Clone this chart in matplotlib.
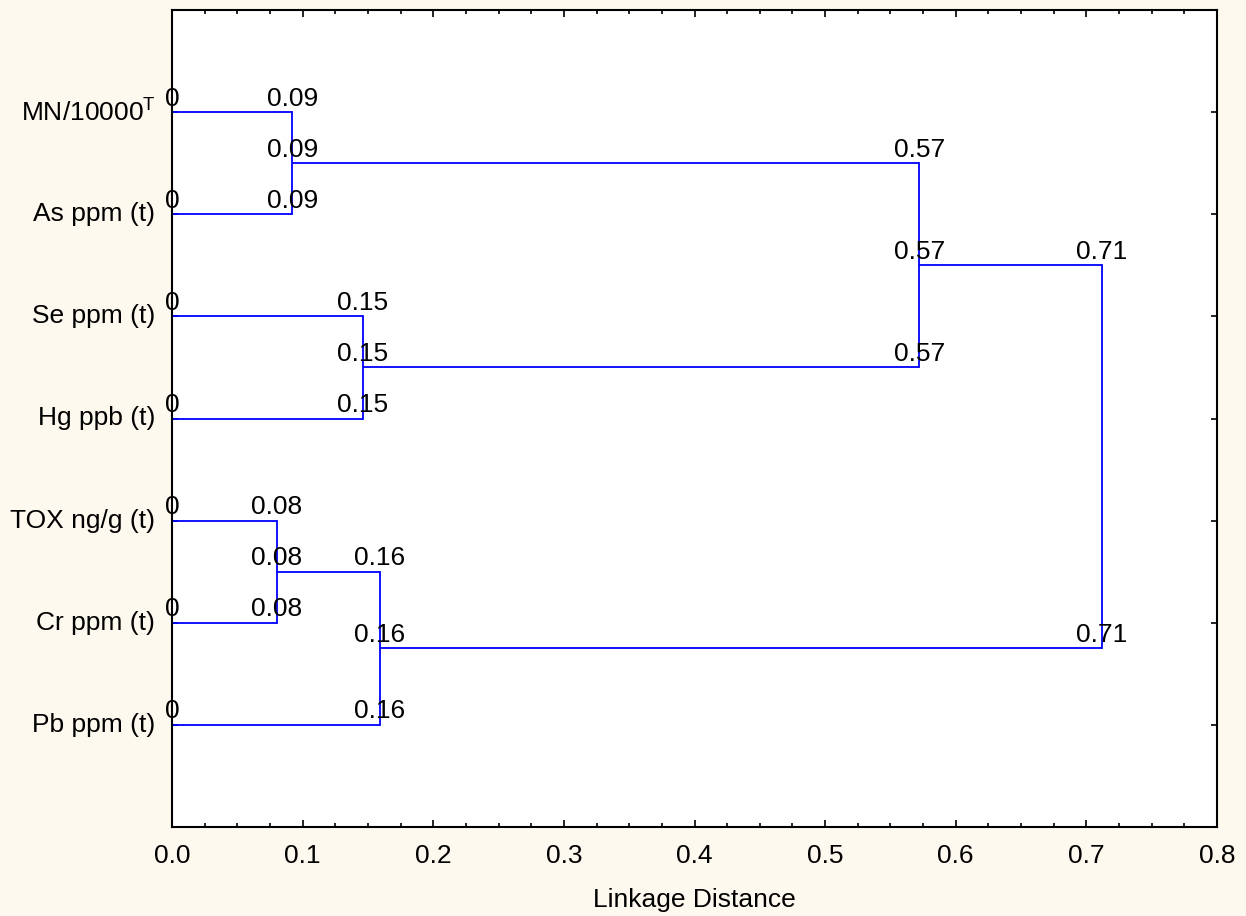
import numpy as np
import matplotlib
matplotlib.use('Agg')
import matplotlib.pyplot as plt
from matplotlib.ticker import FixedLocator

plt.rcParams['font.family'] = ['Liberation Sans', 'DejaVu Sans']
plt.rcParams['mathtext.fontset'] = 'custom'
plt.rcParams['mathtext.rm'] = 'Liberation Sans'

# leaves, top to bottom
leaf_labels = ['MN/10000$^{\\mathrm{T}}$', 'As ppm (t)', 'Se ppm (t)', 'Hg ppb (t)',
               'TOX ng/g (t)', 'Cr ppm (t)', 'Pb ppm (t)']

# merges: (left node, right node, linkage distance); nodes 0-6 are leaves, 7+ clusters
merge_left = [0, 2, 4, 9, 7, 11]
merge_right = [1, 3, 5, 6, 8, 10]
merge_dist = [0.092, 0.146, 0.080, 0.159, 0.572, 0.712]

x_ticks = [0.0, 0.1, 0.2, 0.3, 0.4, 0.5, 0.6, 0.7, 0.8]

bg = '#FDF9EE'
line_col = '#0000FF'

fig = plt.figure(figsize=(12.46, 9.16), dpi=100)
fig.patch.set_facecolor(bg)
ax = fig.add_axes([172 / 1246, (916 - 827) / 916, (1217 - 172) / 1246, 817 / 916])
ax.set_facecolor('white')

node_x = {i: 0.0 for i in range(len(leaf_labels))}
node_y = {i: float(i + 1) for i in range(len(leaf_labels))}


def fmt(v):
    return '0' if v == 0 else f'{v:.2f}'


def seg_label(x, y):
    ax.annotate(fmt(x), (x, y), xytext=(0, 1), textcoords='offset points',
                ha='center', va='bottom', fontsize=19, color='black',
                clip_on=False, annotation_clip=False)


for k, (a, b, d) in enumerate(zip(merge_left, merge_right, merge_dist)):
    new = len(leaf_labels) + k
    for child in (a, b):
        cx, cy = node_x[child], node_y[child]
        ax.plot([cx, d], [cy, cy], color=line_col, lw=1.3, solid_capstyle='butt')
        seg_label(cx, cy)
        seg_label(d, cy)
    ax.plot([d, d], [node_y[a], node_y[b]], color=line_col, lw=1.3)
    node_x[new] = d
    node_y[new] = (node_y[a] + node_y[b]) / 2

ax.set_xlim(0, 0.8)
ax.set_ylim(8, 0)
ax.set_yticks(np.arange(1, len(leaf_labels) + 1))
ax.set_yticklabels(leaf_labels, fontsize=19, va='center')
ax.set_xticks(x_ticks)
ax.set_xticklabels([f'{v:.1f}' for v in x_ticks], fontsize=19)
ax.xaxis.set_minor_locator(FixedLocator(np.arange(0, 0.8001, 0.025)))
ax.tick_params(axis='x', which='major', direction='in', length=5, width=1.2,
               top=True, pad=12)
ax.tick_params(axis='x', which='minor', direction='in', length=3, width=1.2, top=True)
ax.tick_params(axis='y', direction='in', length=4, width=1.2, right=True, pad=12)
for sp in ax.spines.values():
    sp.set_linewidth(1.5)
ax.set_xlabel('Linkage Distance', fontsize=19, labelpad=15)

fig.savefig('out.png', dpi=100, facecolor=bg)
